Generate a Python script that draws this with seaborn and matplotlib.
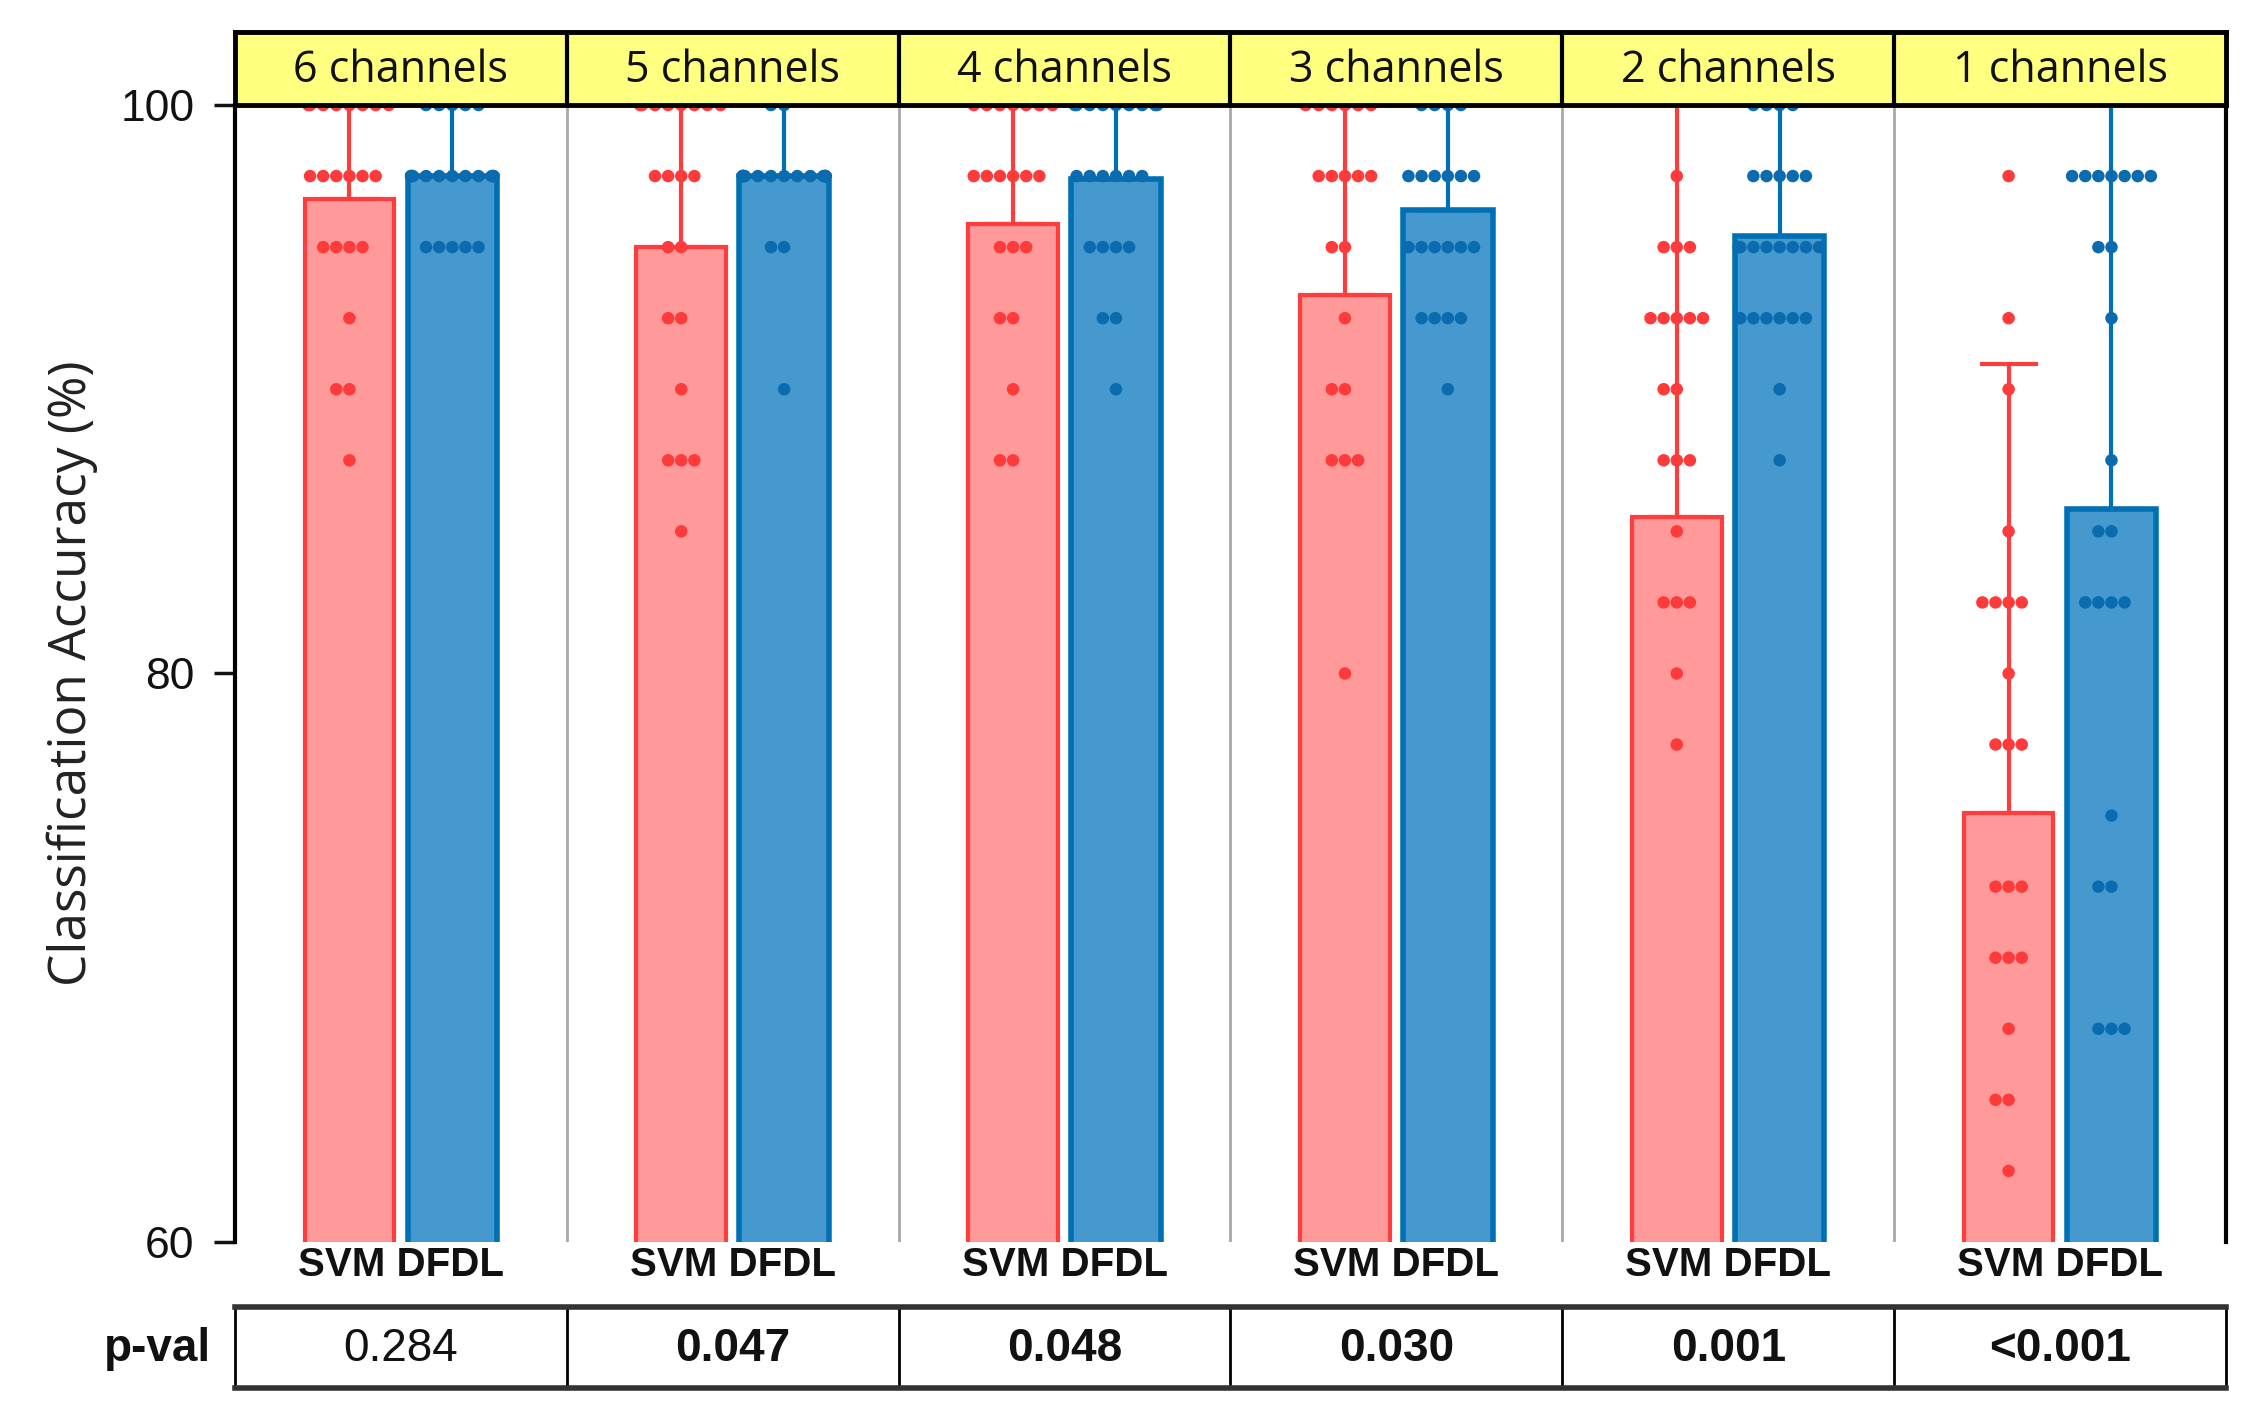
import warnings
import numpy as np
import pandas as pd
import matplotlib
matplotlib.use('Agg')
import matplotlib.pyplot as plt
import seaborn as sns

warnings.filterwarnings('ignore')

# Style
sns.set_theme(style="white")
plt.rcParams['font.family'] = ['Liberation Sans', 'DejaVu Sans']

# Data
channels = ['6 channels', '5 channels', '4 channels', '3 channels', '2 channels', '1 channels']
methods = ['SVM', 'DFDL']
p_values = ['0.284', '0.047', '0.048', '0.030', '0.001', '<0.001']
p_bold = [False, True, True, True, True, True]

# bar heights (mean accuracy, %) and upward error (SD)
svm_mean = [96.7, 95.0, 95.8, 93.3, 85.5, 75.1]
dfdl_mean = [97.5, 97.5, 97.4, 96.3, 95.4, 85.8]
svm_sd = [4.0, 5.6, 4.9, 7.4, 15.5, 15.8]
dfdl_sd = [2.9, 3.0, 2.9, 4.2, 5.2, 15.0]

# accuracy levels of the single subjects and how many dots sit on each level
levels = [100, 97.5, 95, 92.5, 90, 87.5, 85, 82.5, 80, 77.5, 75, 72.5, 70, 67.5, 65, 62.5]
svm_counts = [
    [8, 6, 4, 1, 2, 1, 0, 0, 0, 0, 0, 0, 0, 0, 0, 0],
    [8, 4, 2, 2, 1, 3, 1, 0, 0, 0, 0, 0, 0, 0, 0, 0],
    [7, 6, 3, 2, 1, 2, 0, 0, 0, 0, 0, 0, 0, 0, 0, 0],
    [6, 5, 2, 1, 2, 3, 0, 0, 1, 0, 0, 0, 0, 0, 0, 0],
    [0, 1, 3, 5, 2, 3, 1, 3, 1, 1, 0, 0, 0, 0, 0, 0],
    [0, 1, 0, 1, 1, 0, 1, 4, 1, 3, 0, 3, 3, 1, 2, 1],
]
dfdl_counts = [
    [5, 12, 5, 0, 0, 0, 0, 0, 0, 0, 0, 0, 0, 0, 0, 0],
    [2, 16, 2, 0, 1, 0, 0, 0, 0, 0, 0, 0, 0, 0, 0, 0],
    [9, 6, 4, 2, 1, 0, 0, 0, 0, 0, 0, 0, 0, 0, 0, 0],
    [4, 6, 6, 4, 1, 0, 0, 0, 0, 0, 0, 0, 0, 0, 0, 0],
    [4, 5, 8, 6, 1, 1, 0, 0, 0, 0, 0, 0, 0, 0, 0, 0],
    [0, 7, 2, 1, 0, 1, 2, 4, 0, 0, 1, 2, 0, 3, 0, 0],
]

bar_face = ['#FF999A', '#4599CE']
bar_edge = ['#FF3D3D', '#0070B5']
bar_lw = [3.0, 4.0]
dot_color = ['#FF3A3A', '#0A6CAE']
header_color = '#FFFF80'

sds = [svm_sd, dfdl_sd]
counts = [svm_counts, dfdl_counts]

bar_df = pd.DataFrame({
    'channel': channels * 2,
    'method': [methods[0]] * len(channels) + [methods[1]] * len(channels),
    'acc': svm_mean + dfdl_mean,
})

# Figure layout (figure fractions)
L, W = 0.1045, 0.8857
fig = plt.figure(figsize=(22.48, 14.21), dpi=100)
ax = fig.add_axes([L, 0.1260, W, 0.8001])

sns.barplot(data=bar_df, x='channel', y='acc', hue='method', order=channels,
            hue_order=methods, palette=dict(zip(methods, bar_face)), width=0.62,
            gap=0.13, saturation=1, errorbar=None, legend=False, ax=ax)

# edges, error bars, and bar centres for the dots
face_hex = [c.lower() for c in bar_face]
centres = {}
for bar in ax.patches:
    m = face_hex.index(matplotlib.colors.to_hex(bar.get_facecolor()).lower())
    xc = bar.get_x() + bar.get_width() / 2
    ci = int(round(xc))
    centres[(ci, m)] = xc
    bar.set_edgecolor(bar_edge[m])
    bar.set_linewidth(bar_lw[m])
    ax.errorbar(xc, bar.get_height(), yerr=[[0], [sds[m][ci]]], color=bar_edge[m],
                elinewidth=3, capsize=21, capthick=3, zorder=3)

# dots table
rows = []
for (ci, m), xc in centres.items():
    for lev, n in zip(levels, counts[m][ci]):
        for _ in range(n):
            rows.append({'xpos': xc, 'method': methods[m], 'acc': lev})
pts_df = pd.DataFrame(rows)

# panel dividers
for i in range(len(channels) - 1):
    ax.axvline(i + 0.5, color='#A8A8A8', lw=2, zorder=0)

ax.set_xlim(-0.5, len(channels) - 0.5)
ax.set_ylim(60, 100)
ax.set_yticks([60, 80, 100])
ax.set_xticks(range(len(channels)))
ax.set_xticklabels(['SVM DFDL'] * len(channels), fontsize=29, fontweight='bold', color='#111111')
ax.set_xlabel('')
ax.set_ylabel('Classification Accuracy (%)', fontsize=37, family=['Open Sans', 'DejaVu Sans'],
              color='#222222', labelpad=16)
ax.tick_params(axis='y', length=15, width=2.5, pad=14, labelsize=32, colors='#111111', left=True)
ax.tick_params(axis='x', length=0, pad=3)
for s in ['top', 'bottom']:
    ax.spines[s].set_visible(False)
for s in ['left', 'right']:
    ax.spines[s].set_color('black')
    ax.spines[s].set_linewidth(3)

# dots on an overlay axes with a numeric x scale
ax_dots = fig.add_axes(ax.get_position(), sharey=ax)
sns.swarmplot(data=pts_df, x='xpos', y='acc', hue='method', hue_order=methods,
              palette=dict(zip(methods, dot_color)), native_scale=True, orient='x',
              size=9, linewidth=0, legend=False, ax=ax_dots)
ax_dots.set_xlim(-0.5, len(channels) - 0.5)
ax_dots.set_ylim(60, 100)
ax_dots.axis('off')

# header row
hax = fig.add_axes([L, 0.9261, W, 0.0514])
hax.set_facecolor(header_color)
hax.set_xlim(-0.5, len(channels) - 0.5)
hax.set_ylim(0, 1)
hax.set_xticks([])
hax.set_yticks([])
for s in hax.spines.values():
    s.set_visible(True)
    s.set_color('black')
    s.set_linewidth(3.5)
for i, name in enumerate(channels):
    hax.text(i, 0.47, name, ha='center', va='center', fontsize=31,
             family=['Open Sans', 'DejaVu Sans'], color='#111111')
    if i > 0:
        hax.axvline(i - 0.5, color='black', lw=3)

# p-value table
tax = fig.add_axes([L, 0.0232, W, 0.0570])
tax.set_facecolor('white')
tax.set_xlim(-0.5, len(channels) - 0.5)
tax.set_ylim(0, 1)
tax.set_xticks([])
tax.set_yticks([])
for s in ['top', 'bottom']:
    tax.spines[s].set_color('#333333')
    tax.spines[s].set_linewidth(4)
for s in ['left', 'right']:
    tax.spines[s].set_color('black')
    tax.spines[s].set_linewidth(2)
for i, (pv, b) in enumerate(zip(p_values, p_bold)):
    tax.text(i, 0.48, pv, ha='center', va='center', fontsize=33,
             fontweight='bold' if b else 'normal', color='#111111')
    if i > 0:
        tax.axvline(i - 0.5, color='black', lw=2)
tax.text(-0.012, 0.48, 'p-val', transform=tax.transAxes, ha='right', va='center',
         fontsize=33, fontweight='bold', color='#111111')

fig.savefig('out.png', dpi=100)
plt.close(fig)
